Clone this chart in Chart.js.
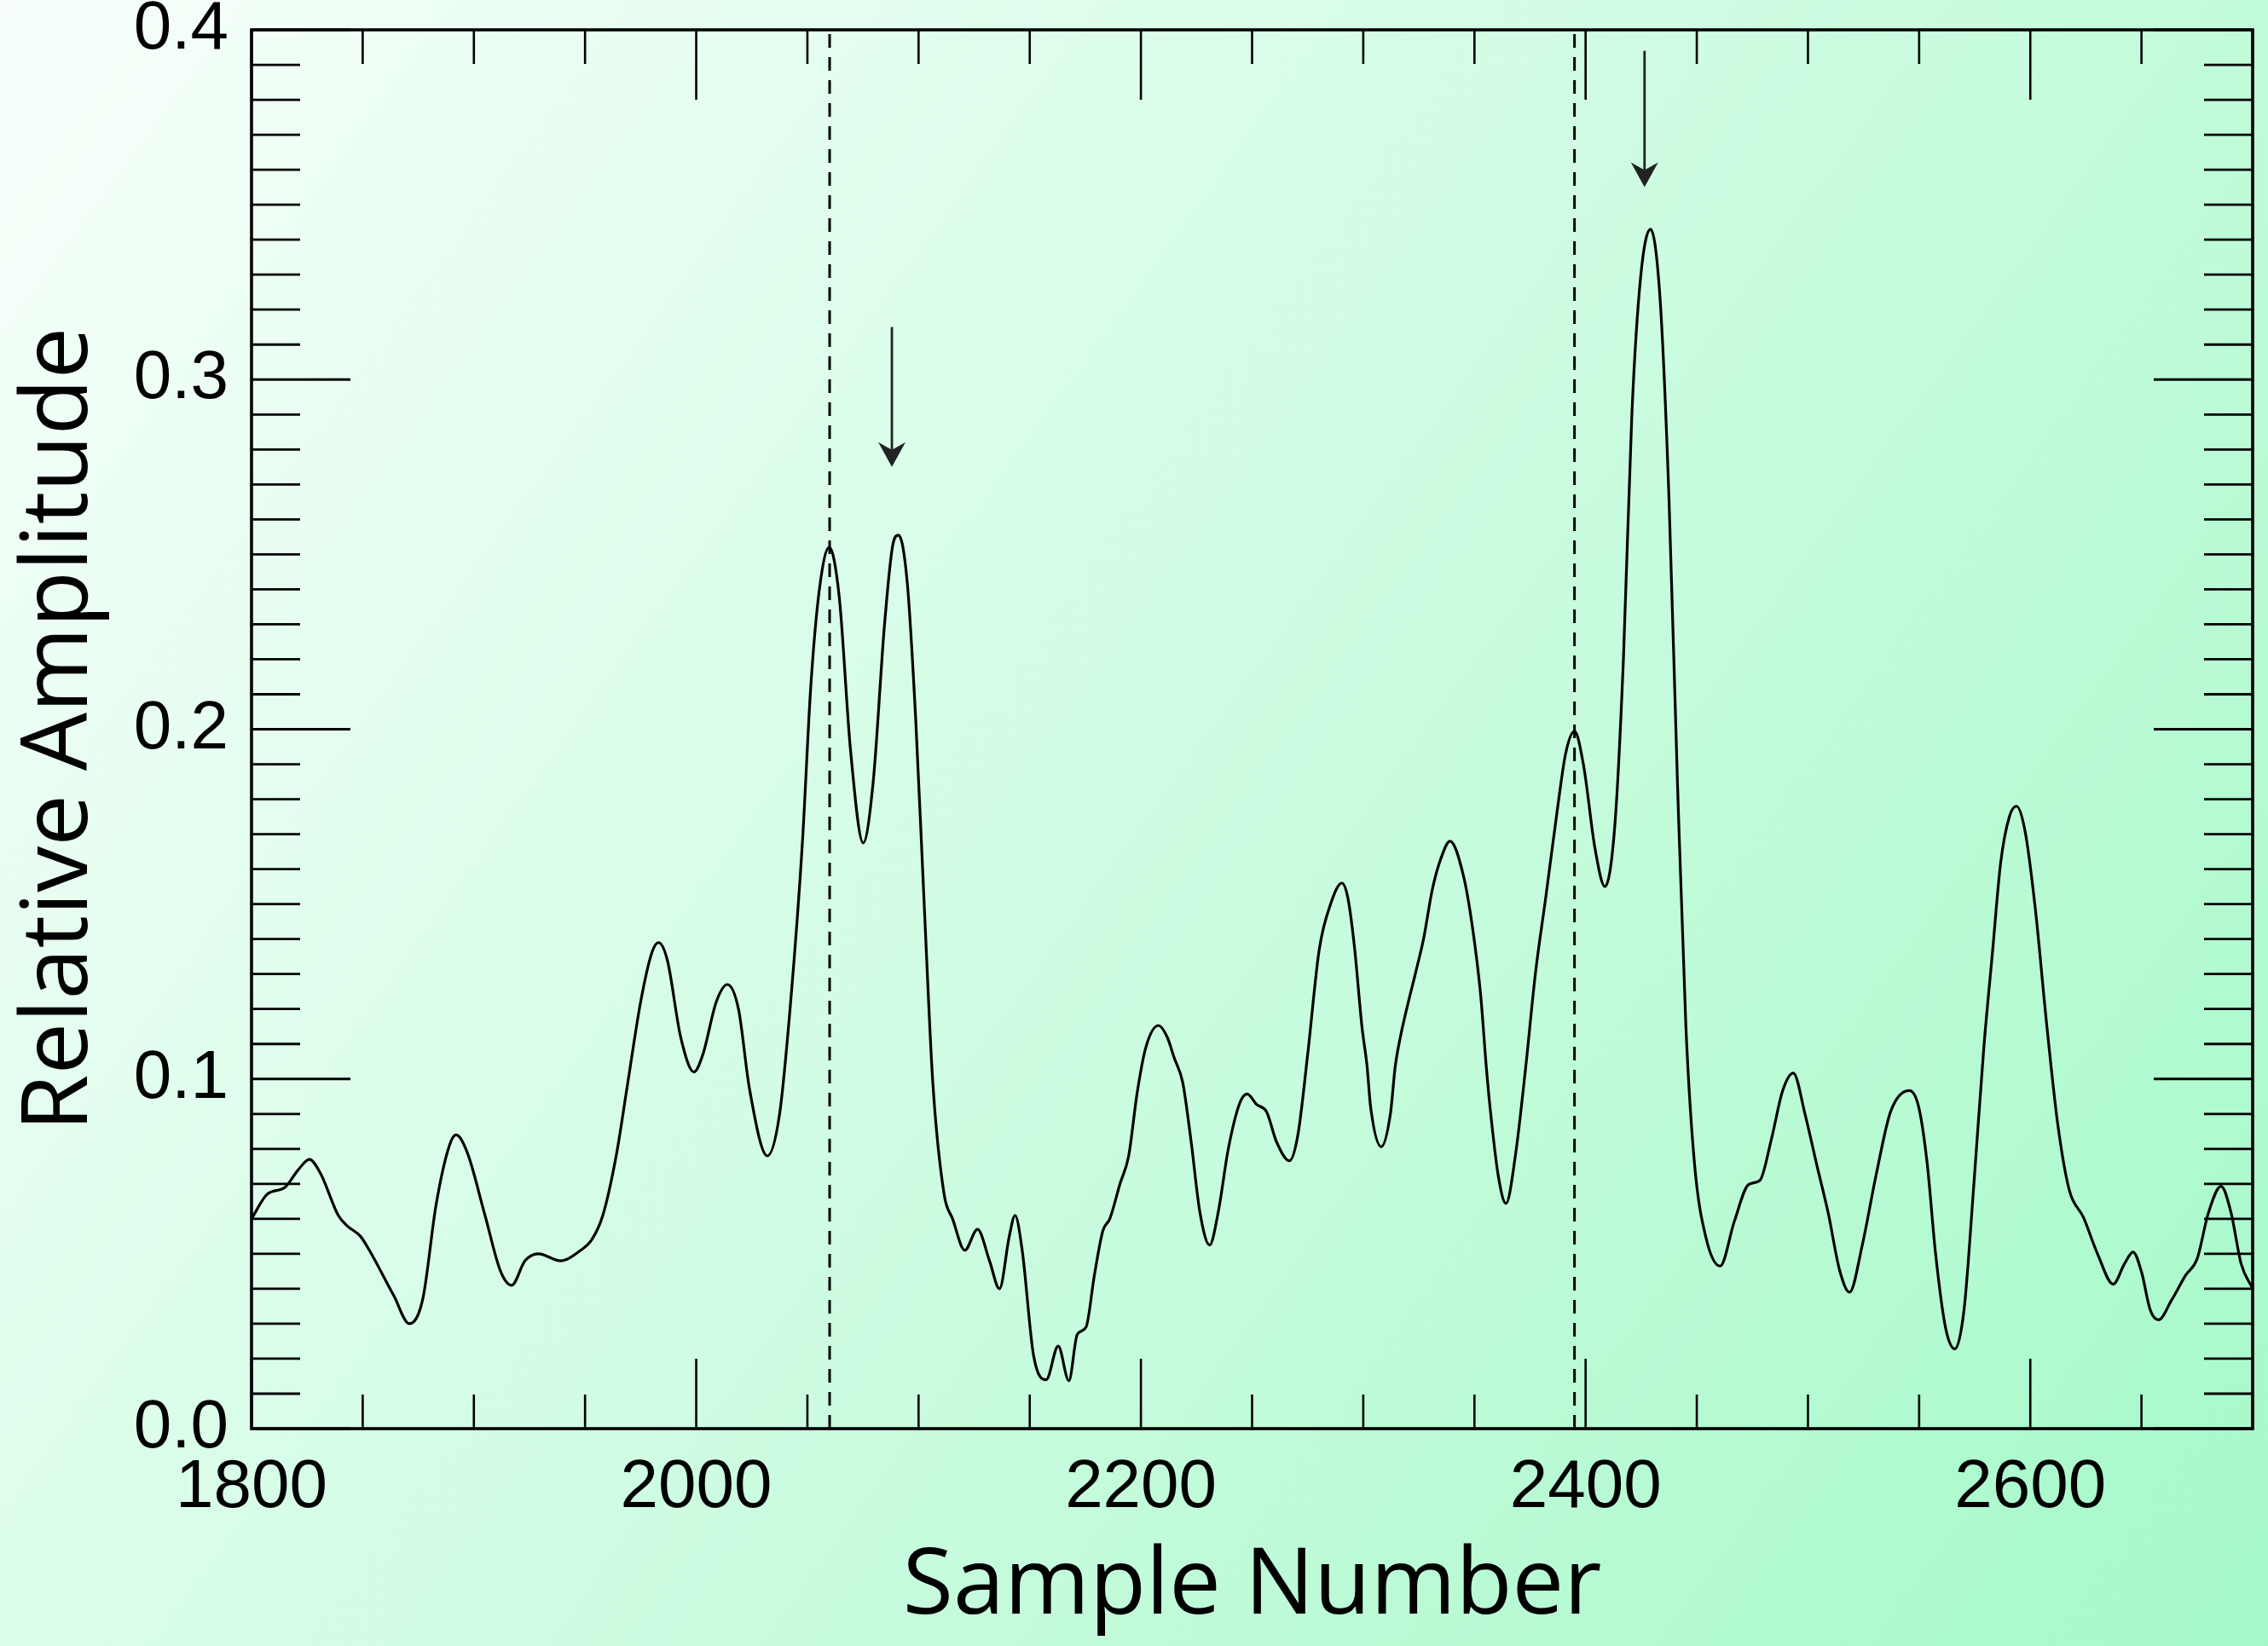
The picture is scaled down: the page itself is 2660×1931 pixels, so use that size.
<!DOCTYPE html>
<html>
<head>
<meta charset="utf-8">
<script src="https://cdn.jsdelivr.net/npm/chart.js@4.4.1/dist/chart.umd.min.js"></script>
<style>
  html, body { margin: 0; padding: 0; }
  canvas { display: block; }
</style>
</head>
<body>
<canvas id="trace" width="2660" height="1931" style="width:2660px;height:1931px"></canvas>
<script>
// values
var sampleNumber = [
  1800, 1807, 1815, 1821, 1826, 1831, 1839, 1843, 1849, 1853, 1864, 1871, 1877, 1883, 1889, 1892,
  1897, 1905, 1912, 1917, 1923, 1929, 1939, 1948, 1953, 1958, 1964, 1969, 1975, 1980, 1983, 1987,
  1993, 1999, 2003, 2009, 2014, 2019, 2024, 2032, 2037.5, 2042.6, 2047.7, 2051.5, 2055.4, 2059.8,
  2064.3, 2069.4, 2075.1, 2079.6, 2084.7, 2088.5, 2091, 2094.9, 2098.7, 2102.6, 2106.4, 2111.5,
  2115.3, 2120.8, 2126.5, 2131.9, 2136.4, 2140.8, 2143.4, 2146.6, 2151.7, 2157.4, 2162.8, 2167.6,
  2171.4, 2175.3, 2179.1, 2182.9, 2186, 2190.6, 2194.5, 2198.3, 2202.2, 2207.9, 2211.8, 2215,
  2218.8, 2222.6, 2226.5, 2230.9, 2234.8, 2239.3, 2244.4, 2247.8, 2252, 2256.5, 2261, 2266.8,
  2270.6, 2275, 2280.2, 2285.3, 2290.4, 2293, 2296, 2299.4, 2301.7, 2303.3, 2308.1, 2312.2, 2314.4,
  2316.7, 2319.9, 2323.4, 2327.2, 2331, 2334.9, 2339, 2345.1, 2348.9, 2352.8, 2355.3, 2357, 2360.8,
  2364.2, 2368.4, 2373, 2377.4, 2382.2, 2387.5, 2391, 2395, 2399.1, 2404.2, 2408.7, 2413.2, 2417,
  2420.8, 2424.7, 2429.2, 2433.6, 2437.5, 2441.3, 2445.1, 2449, 2454.1, 2460.5, 2466.9, 2473.3,
  2478.4, 2483.5, 2488.6, 2493.4, 2498.8, 2503.9, 2509.1, 2514.2, 2518.7, 2524.4, 2530.8, 2537.2,
  2545.6, 2549.8, 2553.6, 2557.4, 2561.9, 2566.1, 2570.2, 2574.6, 2579.1, 2582.9, 2586.7, 2590.6,
  2593.8, 2597.6, 2602.2, 2607.3, 2612.4, 2617.5, 2623.9, 2630.3, 2637.3, 2642.4, 2646.2, 2650.1,
  2653.9, 2657.7, 2663.5, 2669.9, 2675, 2680.1, 2685.8, 2690.3, 2694.8, 2700
];
var amplitude = [
  0.060, 0.067, 0.069, 0.074, 0.077, 0.073, 0.061, 0.058, 0.055, 0.051, 0.038, 0.030, 0.037, 0.064, 0.081, 0.084,
  0.079, 0.061, 0.045, 0.041, 0.048, 0.050, 0.048, 0.051, 0.054, 0.061, 0.078, 0.098, 0.122, 0.136, 0.139, 0.134,
  0.112, 0.102, 0.107, 0.122, 0.127, 0.120, 0.097, 0.078, 0.090, 0.123, 0.167, 0.212, 0.240, 0.252,
  0.238, 0.194, 0.1675, 0.185, 0.230, 0.253, 0.2555, 0.242, 0.203, 0.149, 0.099, 0.067,
  0.060, 0.051, 0.057, 0.048, 0.040, 0.055, 0.061, 0.051, 0.021, 0.014, 0.0236, 0.0137,
  0.027, 0.029, 0.044, 0.0566, 0.060, 0.070, 0.078, 0.096, 0.109, 0.1153, 0.112, 0.106,
  0.099, 0.082, 0.062, 0.0525, 0.062, 0.080, 0.093, 0.0957, 0.0927, 0.0906, 0.082, 0.0766,
  0.084, 0.107, 0.137, 0.150, 0.156, 0.152, 0.138, 0.115, 0.1037, 0.092, 0.0806, 0.090, 0.1037,
  0.112, 0.121, 0.130, 0.1403, 0.154, 0.163, 0.168, 0.158, 0.1443, 0.124, 0.1037, 0.092, 0.072,
  0.0644, 0.078, 0.103, 0.130, 0.1525, 0.178, 0.193, 0.1994, 0.1896, 0.166, 0.155, 0.173, 0.220,
  0.290, 0.329, 0.343, 0.322, 0.266, 0.185, 0.115, 0.0756, 0.0547, 0.0465, 0.0593, 0.0698,
  0.071, 0.0826, 0.0966, 0.1017, 0.0896, 0.0756, 0.0617, 0.0454, 0.039, 0.0524, 0.073, 0.0907,
  0.0967, 0.092, 0.076, 0.050, 0.0288, 0.0228, 0.034, 0.0697, 0.109, 0.1356, 0.162, 0.175,
  0.178, 0.171, 0.149, 0.116, 0.0868, 0.0683, 0.0604, 0.0499, 0.0413, 0.0472, 0.0505, 0.0446,
  0.034, 0.0311, 0.0367, 0.0439, 0.0485, 0.0617, 0.0693, 0.0617, 0.0472, 0.040
];

var xTickLabels = [1800, 2000, 2200, 2400, 2600];
var yTickLabels = [0.0, 0.1, 0.2, 0.3, 0.4];

// dashed markers and the two arrows (sample number / amplitude)
var markerLines = [2060, 2395];
var arrowX = [2088, 2426.5];
var arrowFrom = [0.315, 0.394];
var arrowTo = [0.275, 0.355];

var points = sampleNumber.map(function (x, i) { return { x: x, y: amplitude[i] }; });

var backdrop = {
  id: 'backdrop',
  beforeDraw: function (chart) {
    var c = chart.ctx;
    var g = c.createLinearGradient(0, 0, chart.width, chart.height);
    g.addColorStop(0, '#f8fffb');
    g.addColorStop(1, '#a5f9c9');
    c.save();
    c.fillStyle = g;
    c.fillRect(0, 0, chart.width, chart.height);
    c.restore();
  }
};

var frame = {
  id: 'frame',
  afterDatasetsDraw: function (chart) {
    var c = chart.ctx;
    var a = chart.chartArea;
    var xs = chart.scales.x, ys = chart.scales.y;
    c.save();

    // dashed markers
    c.strokeStyle = '#000';
    c.lineWidth = 3;
    c.setLineDash([16, 11]);
    markerLines.forEach(function (v) {
      var px = xs.getPixelForValue(v);
      c.beginPath();
      c.moveTo(px, a.bottom);
      c.lineTo(px, a.top);
      c.stroke();
    });
    c.setLineDash([]);

    // inward ticks on all four sides
    c.lineWidth = 2.6;
    for (var v = 1800; v <= 2700; v += 50) {
      var px = xs.getPixelForValue(v);
      var len = (v % 200 === 0) ? 82 : 40;
      c.beginPath();
      c.moveTo(px, a.bottom); c.lineTo(px, a.bottom - len);
      c.moveTo(px, a.top); c.lineTo(px, a.top + len);
      c.stroke();
    }
    c.lineWidth = 2.8;
    for (var i = 0; i <= 40; i++) {
      var py = ys.getPixelForValue(i / 100);
      var l = (i % 10 === 0) ? 116 : 57;
      c.beginPath();
      c.moveTo(a.left, py); c.lineTo(a.left + l, py);
      c.moveTo(a.right, py); c.lineTo(a.right - l, py);
      c.stroke();
    }

    // box
    c.lineWidth = 3.6;
    c.strokeRect(a.left, a.top, a.right - a.left, a.bottom - a.top);

    // arrows
    c.strokeStyle = '#222';
    c.fillStyle = '#222';
    c.lineWidth = 2.8;
    arrowX.forEach(function (v, k) {
      var px = xs.getPixelForValue(v);
      var y0 = ys.getPixelForValue(arrowFrom[k]);
      var y1 = ys.getPixelForValue(arrowTo[k]);
      c.beginPath();
      c.moveTo(px, y0);
      c.lineTo(px, y1 - 20);
      c.stroke();
      c.beginPath();
      c.moveTo(px, y1);
      c.lineTo(px - 16, y1 - 29);
      c.lineTo(px, y1 - 20);
      c.lineTo(px + 16, y1 - 29);
      c.closePath();
      c.fill();
    });
    c.restore();
  }
};

var chart = new Chart(document.getElementById('trace'), {
  type: 'line',
  data: {
    datasets: [{
      data: points,
      borderColor: '#000',
      borderWidth: 3.2,
      pointRadius: 0,
      fill: false,
      cubicInterpolationMode: 'monotone'
    }]
  },
  options: {
    responsive: false,
    animation: false,
    devicePixelRatio: 1,
    layout: { padding: { top: 35, right: 18, left: 0, bottom: 0 } },
    plugins: { legend: { display: false }, tooltip: { enabled: false } },
    scales: {
      x: {
        type: 'linear',
        min: 1800,
        max: 2700,
        afterBuildTicks: function (s) { s.ticks = xTickLabels.map(function (v) { return { value: v }; }); },
        afterFit: function (s) { s.height = 255; s.paddingLeft = 0; s.paddingRight = 0; },
        grid: { display: false, drawTicks: false },
        border: { display: false },
        ticks: {
          color: '#000',
          font: { family: 'Liberation Sans', size: 80 },
          padding: 22,
          maxRotation: 0,
          autoSkip: false,
          callback: function (v) { return String(v); }
        },
        title: {
          display: true,
          text: 'Sample Number',
          color: '#000',
          font: { family: 'Open Sans', size: 108 },
          padding: { top: 0, bottom: 4 }
        }
      },
      y: {
        min: 0,
        max: 0.4,
        afterBuildTicks: function (s) { s.ticks = yTickLabels.map(function (v) { return { value: v }; }); },
        afterFit: function (s) { s.width = 295; s.paddingTop = 0; s.paddingBottom = 0; },
        grid: { display: false, drawTicks: false },
        border: { display: false },
        ticks: {
          color: '#000',
          font: { family: 'Liberation Sans', size: 80 },
          padding: 27,
          autoSkip: false,
          callback: function (v) { return v.toFixed(1); }
        },
        title: {
          display: true,
          text: 'Relative Amplitude',
          color: '#000',
          font: { family: 'Open Sans', size: 108 },
          padding: { top: 6, bottom: 0 }
        }
      }
    }
  },
  plugins: [backdrop, frame]
});
</script>
</body>
</html>
